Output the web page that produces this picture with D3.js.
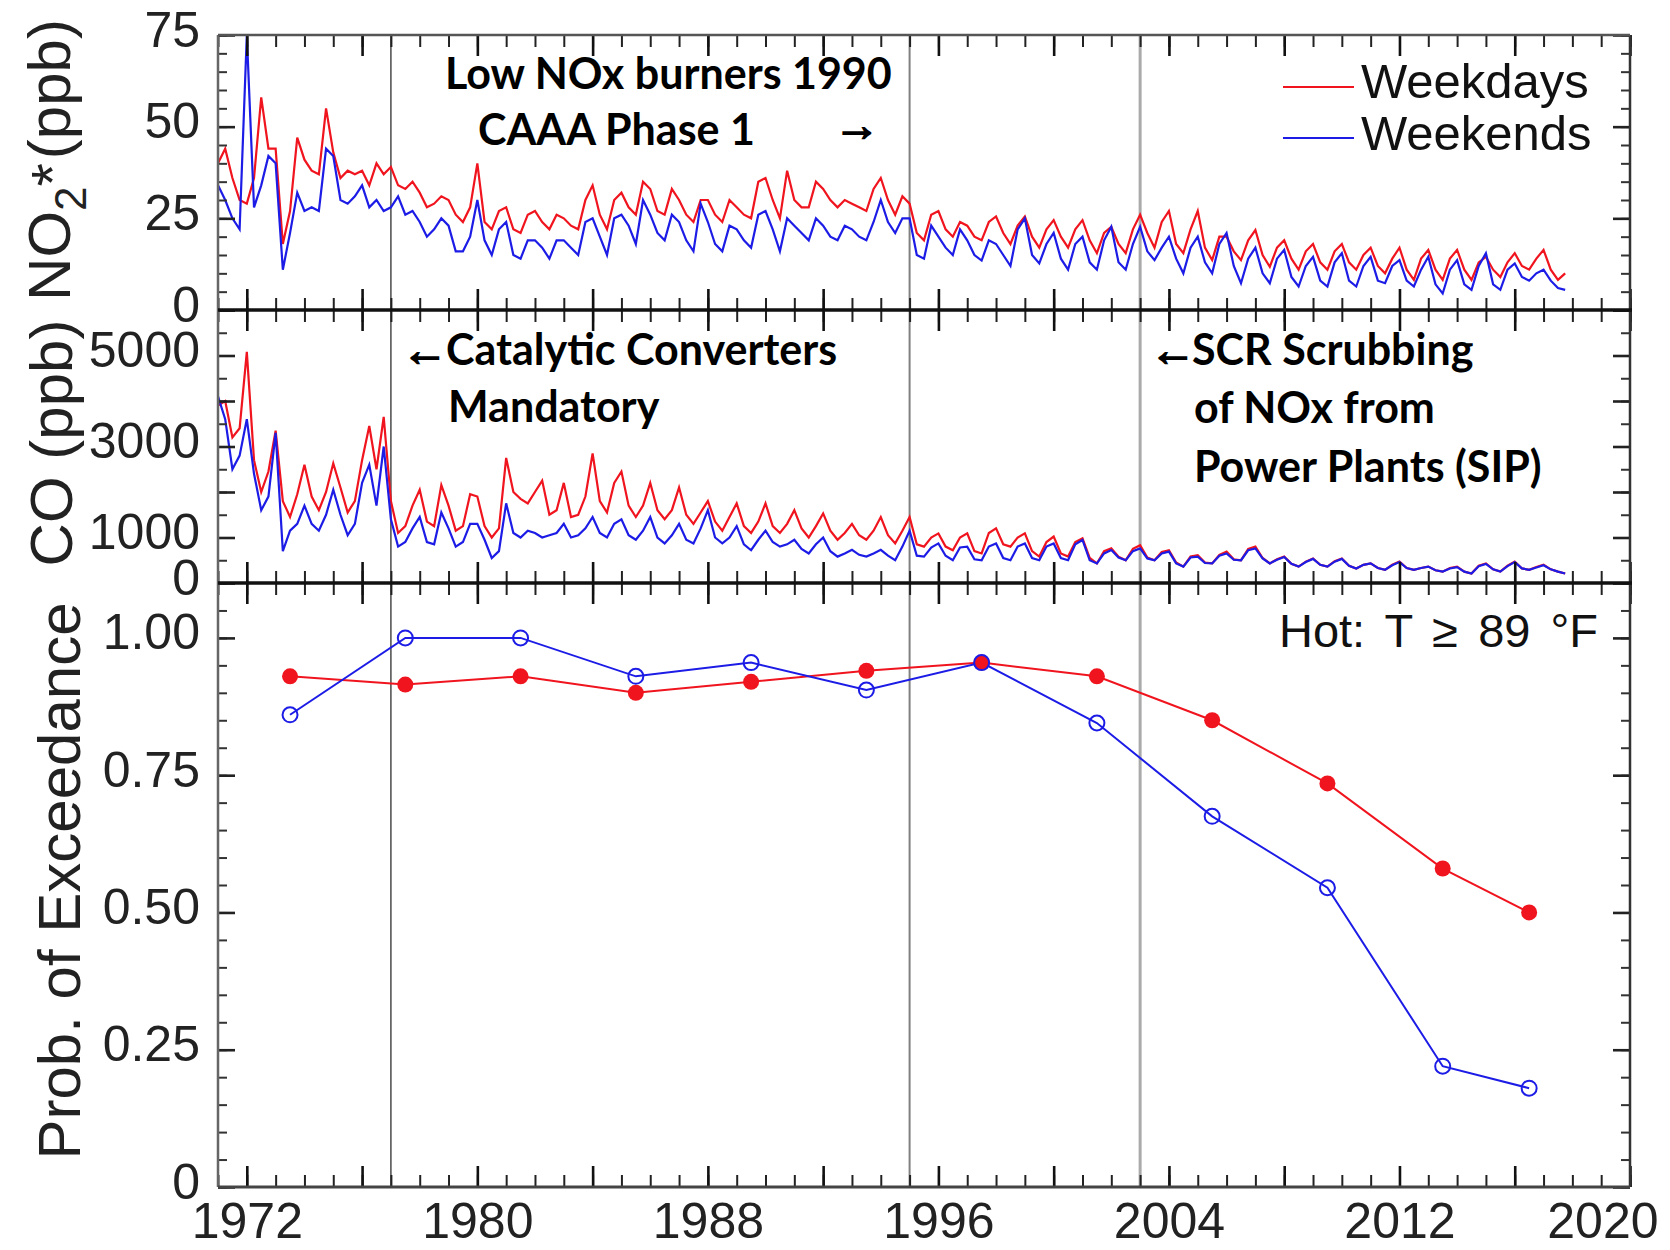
<!DOCTYPE html>
<html>
<head>
<meta charset="utf-8">
<script src="https://cdn.jsdelivr.net/npm/d3@7"></script>
<style>
body { margin: 0; background: #fff; }
text { font-family: "Liberation Sans", Arial, Helvetica, sans-serif; }
.note { font-family: Lato, "Open Sans", sans-serif; font-weight: bold; }
</style>
</head>
<body>
<svg id="chart"></svg>
<script>
// quarterly samples (Jan, Apr, Jul, Oct) starting 1971
var startYear = 1971;

var no2Weekdays = [
  40, 44, 36, 30,   29, 36, 58, 44,   44, 18, 27, 47,   41, 38, 37, 55,
  43, 36, 38, 37,   38, 34, 40, 37,   39, 34, 33, 35,   32, 28, 29, 31,
  30, 26, 24, 28,   40, 24, 22, 27,   28, 22, 21, 26,   27, 24, 22, 26,
  25, 23, 22, 30,   34, 26, 22, 30,   32, 28, 26, 35,   33, 27, 26, 33,
  30, 26, 24, 30,   30, 26, 24, 30,   28, 26, 25, 35,   36, 30, 25, 38,
  30, 28, 28, 35,   33, 30, 28, 30,   29, 28, 27, 33,   36, 30, 26, 31,
  29, 21, 19, 26,   27, 22, 20, 24,   23, 20, 19, 24,   25.5, 21, 18, 23,
  25.5, 20, 17, 22, 24.5, 20, 17, 22, 24.5, 19, 15.5, 21, 22.7, 18, 15.5, 22,
  26, 21, 17, 24,   27, 18, 15.5, 22, 27, 17, 13.6, 20, 20, 16, 13.6, 19,
  21.8, 15, 11.8, 17, 19, 14, 11, 16, 18, 13, 11, 16,  18, 13, 11, 15,
  17, 12, 10, 14,   17, 11, 8.2, 14,  16.4, 11, 8.2, 14, 16.4, 11, 8.2, 13,
  14.5, 11, 9, 13,  15.5, 12, 11, 14, 16.4, 11, 8.2, 10
];
var no2Weekends = [
  34, 30, 25, 22,   75, 28, 34, 42,   40, 11, 21, 32,   27, 28, 27, 44,
  42, 30, 29, 31,   34, 28, 30, 27,   28, 31, 26, 27,   24, 20, 22, 25,
  23, 16, 16, 20,   30, 19, 15, 22,   24, 15, 14, 19,   19, 17, 14, 19,
  19, 17, 15, 24,   25, 20, 15, 25,   26, 23, 18, 30,   26, 21, 19, 26,
  24, 19, 16, 29,   24, 18, 16, 23,   22, 19, 17, 26,   27, 22, 16, 25,
  23, 21, 19, 25,   23, 20, 19, 23,   22, 20, 19, 24,   30, 24, 21, 25,
  25, 15, 14, 23,   20, 17, 15, 22,   19, 15, 13.5, 19, 18, 15, 12, 22,
  25, 15, 12.7, 18, 21, 14, 11, 18,  20, 13, 11, 19,   22.7, 13, 11, 18,
  22.7, 16, 13.6, 17, 20, 14, 10, 17, 20, 13, 10, 18,  21, 12, 7.3, 14,
  17, 10, 7.3, 14,  16.4, 9, 6.4, 12, 14.5, 8, 6.4, 13, 15.5, 8, 6.4, 12,
  14.5, 8, 7.3, 12, 13.6, 8, 6.4, 11, 14.5, 7, 4.5, 11, 13.6, 7, 5.5, 12,
  15.5, 7, 5.5, 11, 12.7, 9, 8, 10,  11, 8, 6, 5.5
];
var coWeekdays = [
  3900, 4000, 3200, 3400,  5080, 2700, 2000, 2450,  3350, 1800, 1450, 1950,  2600, 1900, 1600, 2000,
  2630, 2100, 1550, 1800,  2700, 3450, 2500, 3650,  1800, 1100, 1250, 1700,  2050, 1350, 1250, 2150,
  1700, 1150, 1250, 1950,  1900, 1250, 1000, 1200,  2750, 2000, 1850, 1750,  2000, 2250, 1500, 1600,
  2200, 1450, 1500, 1900,  2850, 1800, 1550, 2200,  2450, 1700, 1450, 1700,  2200, 1600, 1400, 1600,
  2100, 1500, 1300, 1550,  1800, 1350, 1150, 1450,  1750, 1250, 1100, 1350,  1750, 1250, 1100, 1300,
  1600, 1200, 1000, 1250,  1530, 1150, 950, 1100,   1300, 1050, 950, 1150,   1450, 1050, 870, 1150,
  1450, 850, 800, 1000,    1090, 800, 720, 1000,    1090, 700, 650, 1100,    1200, 850, 800, 1000,
  1090, 700, 580, 900,     1020, 650, 580, 900,     980, 550, 430, 700,      760, 580, 500, 750,
  830, 560, 500, 680,      720, 450, 360, 580,      610, 450, 430, 620,      690, 520, 500, 750,
  800, 550, 430, 520,      580, 420, 360, 470,      540, 400, 360, 480,      540, 380, 320, 400,
  430, 330, 290, 400,      470, 330, 290, 330,      360, 280, 250, 330,      360, 250, 210, 380,
  430, 300, 250, 380,      470, 320, 290, 350,      400, 300, 250, 210
];
var coWeekends = [
  4100, 3600, 2500, 2800,  3600, 2400, 1600, 1900,  3300, 700, 1150, 1300,   1700, 1300, 1150, 1500,
  2050, 1500, 1050, 1300,  2200, 2600, 1700, 3000,  1400, 800, 900, 1200,    1450, 900, 850, 1550,
  1200, 800, 900, 1300,    1300, 950, 550, 700,     1750, 1100, 1000, 1150,  1100, 1000, 1050, 1100,
  1300, 1000, 1050, 1200,  1450, 1100, 1000, 1300,  1400, 1050, 950, 1150,   1450, 1000, 870, 1050,
  1300, 950, 870, 1200,    1600, 1000, 870, 1000,   1250, 850, 720, 950,     1150, 900, 800, 850,
  950, 750, 650, 850,      1000, 700, 580, 650,     730, 620, 580, 650,      730, 600, 500, 800,
  1150, 600, 580, 780,     870, 600, 500, 780,      800, 520, 500, 800,      870, 550, 500, 800,
  870, 550, 500, 800,      870, 550, 500, 850,      945, 500, 430, 650,      725, 560, 500, 700,
  760, 540, 500, 650,      690, 430, 360, 560,      580, 440, 430, 600,      650, 510, 500, 720,
  760, 540, 430, 510,      570, 420, 360, 460,      530, 400, 360, 470,      530, 380, 320, 400,
  430, 330, 290, 390,      460, 330, 290, 330,      360, 280, 250, 320,      350, 250, 210, 370,
  420, 300, 250, 370,      460, 320, 290, 340,      390, 300, 250, 210
];

var probYears = [1973.5, 1977.5, 1981.5, 1985.5, 1989.5, 1993.5, 1997.5, 2001.5, 2005.5, 2009.5, 2013.5, 2016.5];
var probWeekdays = [0.93, 0.915, 0.93, 0.90, 0.92, 0.94, 0.955, 0.93, 0.85, 0.735, 0.58, 0.50];
var probWeekends = [0.86, 1.00, 1.00, 0.93, 0.955, 0.905, 0.955, 0.845, 0.675, 0.545, 0.22, 0.18];

var eventYears = [1977, 1995, 2003];
var xLabelYears = [1972, 1980, 1988, 1996, 2004, 2012, 2020];

var red = "#f0141e", blue = "#1c1ce6";

var svgWidth = 1670;
var svgHeight = 1250;

var svg = d3.select("#chart")
    .attr("width", svgWidth)
    .attr("height", svgHeight);

var xScale = d3.scaleLinear()
    .domain([1971, 2020])
    .range([218, 1630]);

var panels = [
    { top: 35, bottom: 310, domain: [0, 75], major: [0, 25, 50, 75], minor: d3.range(0, 76, 5),
      labels: [0, 25, 50, 75], fmt: d3.format("d") },
    { top: 310, bottom: 583, domain: [0, 6000], major: d3.range(0, 6001, 1000), minor: d3.range(0, 6001, 500),
      labels: [0, 1000, 3000, 5000], fmt: d3.format("d") },
    { top: 583, bottom: 1187, domain: [0, 1.1], major: [0, 0.25, 0.5, 0.75, 1], minor: d3.range(0, 1.101, 0.05),
      labels: [0, 0.25, 0.5, 0.75, 1], fmt: function(d) { return d === 0 ? "0" : d3.format(".2f")(d); } }
];
panels.forEach(function(p) {
    p.y = d3.scaleLinear().domain(p.domain).range([p.bottom, p.top]);
});

// clip paths
var defs = svg.append("defs");
panels.forEach(function(p, i) {
    defs.append("clipPath").attr("id", "clip" + i)
        .append("rect")
        .attr("x", xScale.range()[0]).attr("y", p.top)
        .attr("width", xScale.range()[1] - xScale.range()[0])
        .attr("height", p.bottom - p.top);
});

// event lines
var eventStyle = [["#555", 1.6], ["#808080", 2], ["#aaa", 3]];
svg.selectAll(".event")
    .data(eventYears)
    .enter()
    .append("line")
    .attr("x1", function(d) { return xScale(d); })
    .attr("x2", function(d) { return xScale(d); })
    .attr("y1", 35)
    .attr("y2", 1187)
    .attr("stroke", function(d, i) { return eventStyle[i][0]; })
    .attr("stroke-width", function(d, i) { return eventStyle[i][1]; });

// time series panels
function quarterLine(p) {
    return d3.line()
        .x(function(d, i) { return xScale(startYear + i / 4); })
        .y(function(d) { return p.y(d); });
}

[[no2Weekdays, no2Weekends], [coWeekdays, coWeekends]].forEach(function(pair, i) {
    var g = svg.append("g").attr("clip-path", "url(#clip" + i + ")");
    var line = quarterLine(panels[i]);
    g.append("path").datum(pair[0]).attr("d", line)
        .attr("fill", "none").attr("stroke", red).attr("stroke-width", 2.2);
    g.append("path").datum(pair[1]).attr("d", line)
        .attr("fill", "none").attr("stroke", blue).attr("stroke-width", 2.2);
});

// probability panel
var p3 = panels[2];
var probLine = d3.line()
    .x(function(d, i) { return xScale(probYears[i]); })
    .y(function(d) { return p3.y(d); });

svg.append("path").datum(probWeekdays).attr("d", probLine)
    .attr("fill", "none").attr("stroke", red).attr("stroke-width", 2);
svg.append("path").datum(probWeekends).attr("d", probLine)
    .attr("fill", "none").attr("stroke", blue).attr("stroke-width", 2);

svg.selectAll(".wkday")
    .data(probWeekdays)
    .enter()
    .append("circle")
    .attr("cx", function(d, i) { return xScale(probYears[i]); })
    .attr("cy", function(d) { return p3.y(d); })
    .attr("r", 8)
    .attr("fill", red);

svg.selectAll(".wkend")
    .data(probWeekends)
    .enter()
    .append("circle")
    .attr("cx", function(d, i) { return xScale(probYears[i]); })
    .attr("cy", function(d) { return p3.y(d); })
    .attr("r", 7.5)
    .attr("fill", "none")
    .attr("stroke", blue)
    .attr("stroke-width", 2);

// y axes, ticks pointing inward
function styleTicks(g, color, width) {
    g.select(".domain").remove();
    g.selectAll("line").attr("stroke", color).attr("stroke-width", width);
}

panels.forEach(function(p) {
    var gl = svg.append("g").attr("transform", "translate(" + xScale.range()[0] + ",0)");
    gl.call(d3.axisLeft(p.y).tickValues(p.minor).tickSize(-9).tickFormat(""));
    styleTicks(gl, "#333", 2);

    var gm = svg.append("g").attr("transform", "translate(" + xScale.range()[0] + ",0)");
    gm.call(d3.axisLeft(p.y).tickValues(p.major).tickSize(-17).tickPadding(18)
        .tickFormat(function(d) { return p.labels.indexOf(d) >= 0 ? p.fmt(d) : ""; }));
    styleTicks(gm, "#222", 2.6);
    gm.attr("font-size", 50).attr("font-family", "'Liberation Sans', Arial, sans-serif");
    gm.selectAll("text").attr("fill", "#222").attr("dy", "0.22em");

    var gr = svg.append("g").attr("transform", "translate(" + xScale.range()[1] + ",0)");
    gr.call(d3.axisRight(p.y).tickValues(p.minor).tickSize(-9).tickFormat(""));
    styleTicks(gr, "#333", 2);
    var gr2 = svg.append("g").attr("transform", "translate(" + xScale.range()[1] + ",0)");
    gr2.call(d3.axisRight(p.y).tickValues(p.major).tickSize(-17).tickFormat(""));
    styleTicks(gr2, "#222", 2.6);
});

// x ticks on every horizontal boundary
var minorYears = d3.range(1971, 2021);
var majorYears = d3.range(1972, 2021, 4);
function xTicks(y, up, down, values, color, width) {
    var g = svg.append("g").attr("transform", "translate(0," + (y - up) + ")");
    g.call(d3.axisBottom(xScale).tickValues(values).tickSize(up + down).tickFormat(""));
    styleTicks(g, color, width);
}
[[35, 0, 1], [310, 1, 1], [583, 1, 1], [1187, 1, 0]].forEach(function(b) {
    xTicks(b[0], 12 * b[1], 12 * b[2], minorYears, "#222", 2);
    xTicks(b[0], 21 * b[1], 21 * b[2], majorYears, "#111", 2.6);
});

// x labels
var gx = svg.append("g").attr("transform", "translate(0,1187)");
gx.call(d3.axisBottom(xScale).tickValues(xLabelYears).tickSize(0).tickPadding(15).tickFormat(d3.format("d")));
gx.select(".domain").remove();
gx.attr("font-size", 50).attr("font-family", "'Liberation Sans', Arial, sans-serif");
gx.selectAll("text").attr("fill", "#222")
    .filter(function(d) { return d === 2020; })
    .attr("text-anchor", "end").attr("x", 1658 - xScale(2020));

// frame
var x0 = xScale.range()[0], x1 = xScale.range()[1];
svg.append("line").attr("x1", x0).attr("x2", x0).attr("y1", 35).attr("y2", 1187)
    .attr("stroke", "#666").attr("stroke-width", 2.5);
svg.append("line").attr("x1", x1).attr("x2", x1).attr("y1", 35).attr("y2", 1187)
    .attr("stroke", "#333").attr("stroke-width", 2.5);
svg.append("line").attr("x1", x0).attr("x2", x1).attr("y1", 35).attr("y2", 35)
    .attr("stroke", "#555").attr("stroke-width", 2.5);
[310, 583].forEach(function(y) {
    svg.append("line").attr("x1", x0).attr("x2", x1 + 2).attr("y1", y).attr("y2", y)
        .attr("stroke", "#111").attr("stroke-width", 3.5);
});
svg.append("line").attr("x1", x0).attr("x2", x1).attr("y1", 1187).attr("y2", 1187)
    .attr("stroke", "#444").attr("stroke-width", 3);

// y titles
var t1 = svg.append("text").attr("transform", "translate(70,160) rotate(-90)")
    .attr("text-anchor", "middle").attr("font-size", 60).attr("fill", "#222");
t1.append("tspan").text("NO");
t1.append("tspan").attr("font-size", 44).attr("dy", 16).text("2");
t1.append("tspan").attr("dy", -13).text("*");
t1.append("tspan").attr("dy", -3).attr("dx", 4).text("(ppb)");

svg.append("text").attr("transform", "translate(72,443) rotate(-90)")
    .attr("text-anchor", "middle").attr("font-size", 60).attr("fill", "#222")
    .text("CO (ppb)");
svg.append("text").attr("transform", "translate(80,881) rotate(-90)")
    .attr("text-anchor", "middle").attr("font-size", 60).attr("fill", "#222")
    .text("Prob. of Exceedance");

// legend
var legend = [["Weekdays", red, 87, 98], ["Weekends", blue, 138, 150]];
legend.forEach(function(l) {
    svg.append("line").attr("x1", 1283).attr("x2", 1354).attr("y1", l[2]).attr("y2", l[2])
        .attr("stroke", l[1]).attr("stroke-width", 2.2);
    svg.append("text").attr("x", 1361).attr("y", l[3]).attr("font-size", 49).attr("fill", "#111").text(l[0]);
});

svg.append("text").attr("x", 1598).attr("y", 647).attr("text-anchor", "end")
    .attr("font-size", 47).attr("word-spacing", 7).attr("fill", "#111").text("Hot: T \u2265 89 \u00b0F");

// annotations
var notes = [
    ["Low NOx burners 1990", 445, 89],
    ["CAAA Phase 1", 478, 145],
    ["Catalytic Converters", 446, 365],
    ["Mandatory", 448, 422],
    ["SCR Scrubbing", 1192, 365],
    ["of NOx from", 1194, 423],
    ["Power Plants (SIP)", 1194, 482]
];
svg.selectAll(".note")
    .data(notes)
    .enter()
    .append("text")
    .attr("class", "note")
    .attr("x", function(d) { return d[1]; })
    .attr("y", function(d) { return d[2]; })
    .attr("font-size", 43)
    .attr("fill", "#000")
    .text(function(d) { return d[0]; });

var arrows = [["\u2192", 834, 141], ["\u2190", 402, 366], ["\u2190", 1150, 366]];
svg.selectAll(".arrow")
    .data(arrows)
    .enter()
    .append("text")
    .attr("x", function(d) { return d[1]; })
    .attr("y", function(d) { return d[2]; })
    .attr("font-family", "DejaVu Sans, sans-serif")
    .attr("font-weight", "bold")
    .attr("font-size", 46)
    .attr("fill", "#000")
    .attr("stroke", "#000")
    .attr("stroke-width", 1.6)
    .text(function(d) { return d[0]; });
</script>
</body>
</html>
